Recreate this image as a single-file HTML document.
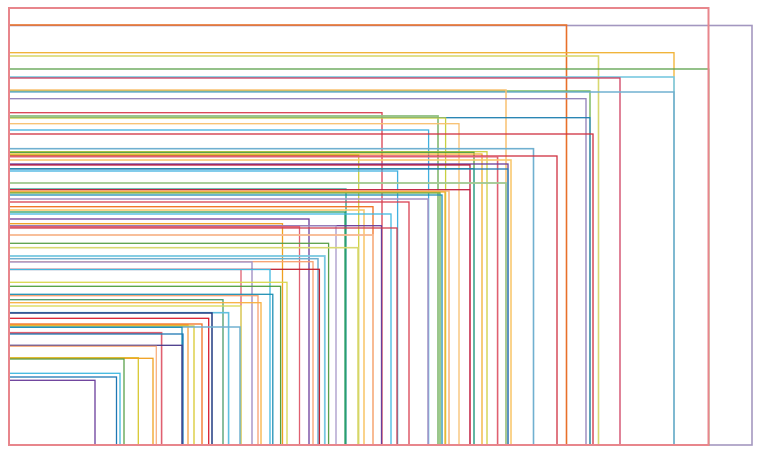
<!DOCTYPE html>
<html><head><meta charset="utf-8"><style>html,body{margin:0;padding:0;background:#fff;width:761px;height:452px;overflow:hidden}svg{display:block}</style></head>
<body>
<svg width="761" height="452" viewBox="0 0 761 452" fill="none" stroke-width="1.3">
<rect x="9" y="25.5" width="743" height="419.5" stroke="#a397c0" stroke-width="1.6"/>
<rect x="9" y="25" width="557.5" height="420" stroke="#e8702a" stroke-width="1.6"/>
<rect x="9" y="52.7" width="665" height="392.3" stroke="#f0b030"/>
<rect x="9" y="56" width="589.5" height="389" stroke="#d8d870" stroke-width="1.6"/>
<rect x="9" y="69" width="700" height="376" stroke="#5aa04a"/>
<rect x="9" y="77" width="665" height="368" stroke="#78c8e0" stroke-width="1.6"/>
<rect x="9" y="78" width="611" height="367" stroke="#d04060"/>
<rect x="9" y="91" width="581" height="354" stroke="#6ab04a"/>
<rect x="9" y="92" width="665" height="353" stroke="#70b0d0" stroke-width="1.5"/>
<rect x="9" y="90" width="497" height="355" stroke="#f8c070" stroke-width="1.5"/>
<rect x="9" y="98.7" width="577" height="346.3" stroke="#9080b8"/>
<rect x="9" y="112.7" width="373" height="332.3" stroke="#d84050"/>
<rect x="9" y="116" width="429" height="329" stroke="#90c080" stroke-width="1.8"/>
<rect x="9" y="117.7" width="581" height="327.3" stroke="#2080b0"/>
<rect x="9" y="118" width="436.6" height="327" stroke="#c8d040"/>
<rect x="9" y="123.7" width="450" height="321.3" stroke="#f8c070"/>
<rect x="9" y="130" width="419.6" height="315" stroke="#40b0e0"/>
<rect x="9" y="134" width="584" height="311" stroke="#d03040"/>
<rect x="9" y="148.7" width="524.5" height="296.3" stroke="#70b0d0" stroke-width="1.6"/>
<rect x="9" y="151.7" width="478" height="293.3" stroke="#d0d040"/>
<rect x="9" y="152.3" width="465" height="292.7" stroke="#50a040"/>
<rect x="9" y="154" width="473" height="291" stroke="#f0b030"/>
<rect x="9" y="155" width="349.7" height="290" stroke="#d0d040"/>
<rect x="9" y="156" width="548" height="289" stroke="#d03040"/>
<rect x="9" y="156.7" width="488.6" height="288.3" stroke="#e06070" stroke-width="1.6"/>
<rect x="9" y="160" width="502" height="285" stroke="#f8c870" stroke-width="1.6"/>
<rect x="9" y="164" width="499" height="281" stroke="#6a3d9a"/>
<rect x="9" y="165" width="461" height="280" stroke="#c02040"/>
<rect x="9" y="168.7" width="465" height="276.3" stroke="#2a9d8f"/>
<rect x="9" y="169" width="499" height="276" stroke="#1f78b4"/>
<rect x="9" y="171" width="388.6" height="274" stroke="#40b0e0"/>
<rect x="9" y="183" width="497" height="262" stroke="#a0c890" stroke-width="1.8"/>
<rect x="9" y="189" width="337" height="256" stroke="#2a9d8f"/>
<rect x="9" y="189.7" width="461" height="255.3" stroke="#c02040"/>
<rect x="9" y="191" width="440" height="254" stroke="#f8b880" stroke-width="1.6"/>
<rect x="9" y="192" width="436" height="253" stroke="#f0b030"/>
<rect x="9" y="193" width="431" height="252" stroke="#6ab04a"/>
<rect x="9" y="195" width="433" height="250" stroke="#1f90b4"/>
<rect x="9" y="199" width="419" height="246" stroke="#a898c8" stroke-width="1.6"/>
<rect x="9" y="202" width="400" height="243" stroke="#d84050"/>
<rect x="9" y="206.7" width="364" height="238.3" stroke="#f07020"/>
<rect x="9" y="210" width="355" height="235" stroke="#f8c870" stroke-width="1.6"/>
<rect x="9" y="212" width="336" height="233" stroke="#2a9d60"/>
<rect x="9" y="214" width="382" height="231" stroke="#40b8e0"/>
<rect x="9" y="219" width="300" height="226" stroke="#6a3d9a"/>
<rect x="9" y="223.7" width="273.5" height="221.3" stroke="#f0a020"/>
<rect x="9" y="225.7" width="372.5" height="219.3" stroke="#6a3d9a"/>
<rect x="9" y="226" width="327" height="219" stroke="#a898c8"/>
<rect x="9" y="226.7" width="290.5" height="218.3" stroke="#e06070"/>
<rect x="9" y="228" width="388" height="217" stroke="#d04050"/>
<rect x="9" y="235" width="364" height="210" stroke="#f8b890" stroke-width="1.8"/>
<rect x="9" y="243.3" width="319.6" height="201.7" stroke="#5aa04a"/>
<rect x="9" y="247.7" width="349" height="197.3" stroke="#d8d870" stroke-width="1.6"/>
<rect x="9" y="256" width="315.8" height="189" stroke="#78c8e0" stroke-width="1.8"/>
<rect x="9" y="258.7" width="309" height="186.3" stroke="#70b0d0" stroke-width="1.5"/>
<rect x="9" y="261.7" width="304" height="183.3" stroke="#f8a070"/>
<rect x="9" y="262" width="243" height="183" stroke="#a898c8" stroke-width="1.5"/>
<rect x="9" y="269.3" width="310.4" height="175.7" stroke="#c02030"/>
<rect x="9" y="269.5" width="232" height="175.5" stroke="#e06070"/>
<rect x="9" y="269.5" width="261" height="175.5" stroke="#40b8e0"/>
<rect x="9" y="282.3" width="278" height="162.7" stroke="#d8d850"/>
<rect x="9" y="286.3" width="271.6" height="158.7" stroke="#50a040"/>
<rect x="9" y="294.3" width="263.8" height="150.7" stroke="#1f90b4"/>
<rect x="9" y="295.7" width="249" height="149.3" stroke="#f8a070"/>
<rect x="9" y="299.7" width="214" height="145.3" stroke="#4a9a6a"/>
<rect x="9" y="302.7" width="252" height="142.3" stroke="#f8b040"/>
<rect x="9" y="306" width="232" height="139" stroke="#d8d850"/>
<rect x="9" y="312.7" width="219.6" height="132.3" stroke="#60c0e0" stroke-width="1.6"/>
<rect x="9" y="313" width="203" height="132" stroke="#203a80" stroke-width="1.5"/>
<rect x="9" y="318.3" width="199.7" height="126.7" stroke="#d82030"/>
<rect x="9" y="324" width="193" height="121" stroke="#f07020"/>
<rect x="9" y="325" width="179" height="120" stroke="#f8a040"/>
<rect x="9" y="326" width="185" height="119" stroke="#d8c830"/>
<rect x="9" y="327" width="231" height="118" stroke="#70b0d0" stroke-width="1.5"/>
<rect x="9" y="327.3" width="173" height="117.7" stroke="#1f90b4"/>
<rect x="9" y="332.7" width="152.6" height="112.3" stroke="#e06070" stroke-width="1.6"/>
<rect x="9" y="334" width="174" height="111" stroke="#1f78b4"/>
<rect x="9" y="345.3" width="173" height="99.7" stroke="#4a3a8a"/>
<rect x="9" y="346.3" width="147.3" height="98.7" stroke="#f8b080"/>
<rect x="9" y="357.7" width="129.3" height="87.3" stroke="#d8c830"/>
<rect x="9" y="358.3" width="144" height="86.7" stroke="#f0a020"/>
<rect x="9" y="359" width="115" height="86" stroke="#5aa04a"/>
<rect x="9" y="373.3" width="111" height="71.7" stroke="#40b8e0"/>
<rect x="9" y="377" width="107.5" height="68" stroke="#1f78b4"/>
<rect x="9" y="380.3" width="86" height="64.7" stroke="#6a3d9a"/>
<rect x="9" y="8" width="699.5" height="437" stroke="#e8868c" stroke-width="2"/>
</svg>
</body></html>
